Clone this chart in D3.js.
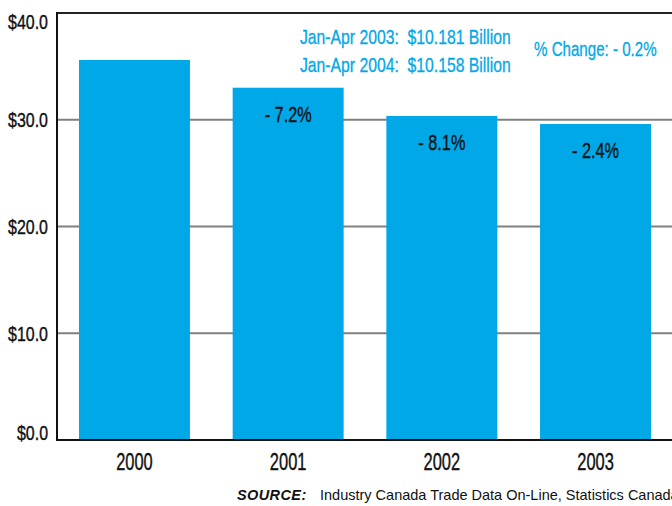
<!DOCTYPE html>
<html>
<head>
<meta charset="utf-8">
<script src="https://cdn.jsdelivr.net/npm/d3@7"></script>
<style>
  html, body { margin: 0; padding: 0; background: #fff; }
  svg { display: block; }
  .narrow { font-family: "Liberation Sans", Arial, sans-serif; white-space: pre; }
</style>
</head>
<body>
<svg id="chart" width="672" height="506"></svg>
<script>
// Annual values, billions of dollars
const years = ["2000", "2001", "2002", "2003"];
const values = [35.6, 33.0, 30.35, 29.6];
const changeLabels = [null, "- 7.2%", "- 8.1%", "- 2.4%"];
const yTicks = [0, 10, 20, 30, 40];
const summaryLines = ["Jan-Apr 2003:  $10.181 Billion", "Jan-Apr 2004:  $10.158 Billion"];
const summaryChange = "% Change: - 0.2%";
const sourceLabel = "SOURCE:";
const sourceText = "Industry Canada Trade Data On-Line, Statistics Canada";

const BLUE = "#00a8e8";
const svg = d3.select("#chart");

const plot = { left: 57, right: 673, top: 13, bottom: 440 };

const x = d3.scaleBand()
  .domain(years)
  .range([plot.left, plot.right])
  .paddingInner(0.278)
  .paddingOuter(0.143);

const y = d3.scaleLinear()
  .domain([0, 40])
  .range([plot.bottom, plot.top]);

// condensed text: a positioned group squeezed horizontally, lightly stroked for weight
function narrowText(parent, px, py, str, opts) {
  const fill = opts.fill || "#111";
  const g = parent.append("g")
    .attr("transform", `translate(${px},${py}) scale(${opts.sx},1)`);
  return g.append("text")
    .attr("class", "narrow")
    .attr("text-anchor", opts.anchor || "start")
    .attr("font-size", opts.size)
    .attr("fill", fill)
    .attr("stroke", fill)
    .attr("stroke-width", opts.weight ?? 0.4)
    .text(str);
}

// gridlines (behind bars)
svg.append("g")
  .selectAll("line")
  .data(yTicks.filter(v => v > 0 && v < 40))
  .join("line")
  .attr("x1", plot.left).attr("x2", 672)
  .attr("y1", d => y(d)).attr("y2", d => y(d))
  .attr("stroke", "#808080")
  .attr("stroke-width", 2);

// bars
svg.append("g")
  .selectAll("rect")
  .data(values)
  .join("rect")
  .attr("x", (d, i) => x(years[i]))
  .attr("width", x.bandwidth())
  .attr("y", d => y(d))
  .attr("height", d => y(0) - y(d))
  .attr("fill", BLUE);

// frame: top border, left axis, baseline
svg.append("line")
  .attr("x1", plot.left).attr("x2", 672)
  .attr("y1", y(40)).attr("y2", y(40))
  .attr("stroke", "#222").attr("stroke-width", 2);
svg.append("line")
  .attr("x1", plot.left).attr("x2", plot.left)
  .attr("y1", y(40) - 1).attr("y2", y(0) + 1)
  .attr("stroke", "#111").attr("stroke-width", 2);
svg.append("line")
  .attr("x1", plot.left).attr("x2", 672)
  .attr("y1", y(0)).attr("y2", y(0))
  .attr("stroke", "#111").attr("stroke-width", 2);

// y tick labels (end labels kept inside the frame)
const yLab = svg.append("g");
yTicks.forEach(v => {
  const cy = Math.min(Math.max(y(v), y(40) + 8), y(0) - 8);
  narrowText(yLab, 48, cy + 7.5, "$" + d3.format(".1f")(v),
    { sx: 0.76, size: 21, anchor: "end" });
});

// x category labels
const xLab = svg.append("g");
years.forEach(yr => {
  narrowText(xLab, x(yr) + x.bandwidth() / 2, 470, yr,
    { sx: 0.7, size: 23.5, anchor: "middle" });
});

// year-over-year change labels inside bars
const chg = svg.append("g");
values.forEach((v, i) => {
  if (!changeLabels[i]) return;
  narrowText(chg, x(years[i]) + x.bandwidth() / 2, y(v) + 34, changeLabels[i],
    { sx: 0.74, size: 22, anchor: "middle" });
});

// year-to-date summary
const summary = svg.append("g");
summaryLines.forEach((s, i) => {
  narrowText(summary, 300, 44 + i * 28, s, { sx: 0.75, size: 21, fill: BLUE, weight: 0.3 });
});
narrowText(summary, 534, 56, summaryChange, { sx: 0.72, size: 21, fill: BLUE, weight: 0.3 });

// source note
const src = svg.append("text")
  .attr("x", 237).attr("y", 500)
  .attr("font-family", "'Liberation Sans', Arial, sans-serif")
  .attr("font-size", 14.5)
  .attr("fill", "#111");
src.append("tspan")
  .attr("font-weight", "bold")
  .attr("font-style", "italic")
  .attr("letter-spacing", 0.4)
  .text(sourceLabel);
src.append("tspan")
  .attr("x", 320)
  .text(sourceText);
</script>
</body>
</html>
